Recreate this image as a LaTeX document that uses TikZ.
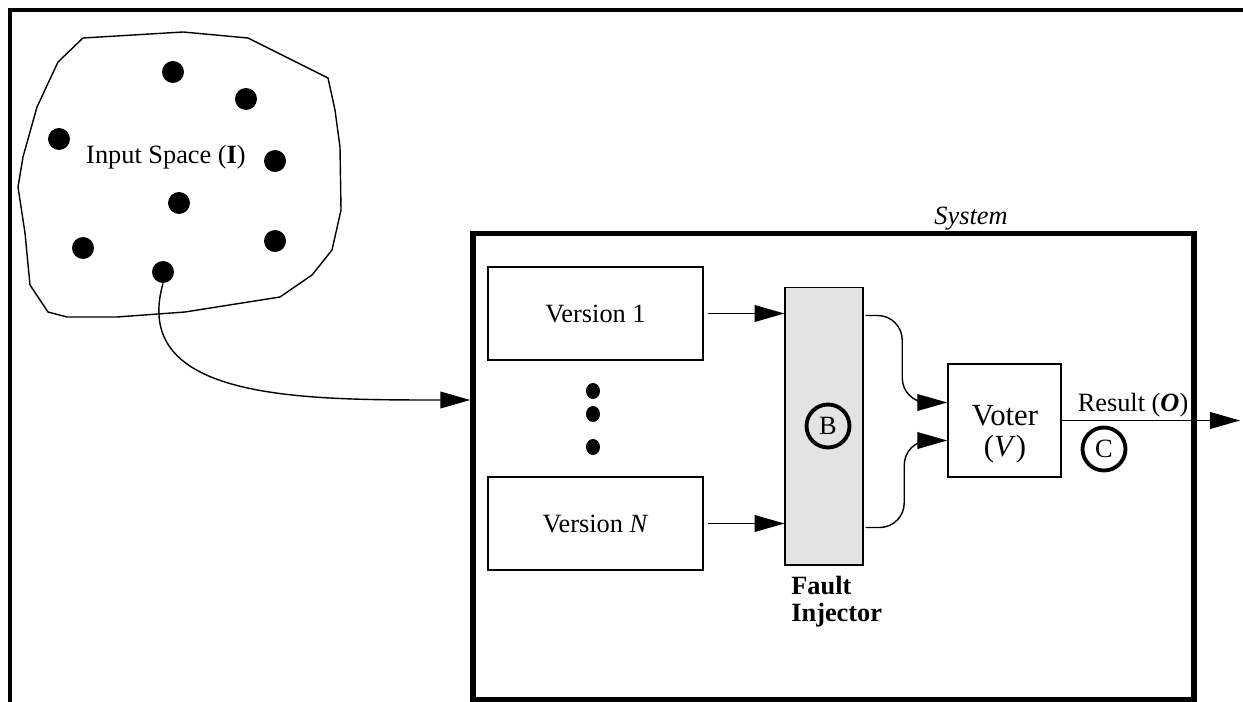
\documentclass[tikz,border=0pt]{standalone}
\usepackage{fontspec}
\setmainfont{Liberation Serif}
\usetikzlibrary{arrows.meta,calc}

\tikzset{
	caja/.style={draw, line width=1.1pt, minimum width=4.3cm, minimum height=1.86cm, inner sep=0pt},
	punto/.style={circle, fill, inner sep=0pt, minimum size=0.44cm},
	marca/.style={circle, draw, line width=2.2pt, inner sep=0pt, minimum size=0.86cm},
	flecha/.style={line width=0.8pt, -{Triangle[length=17pt,width=9.5pt]}},
}

\begin{document}
\begin{tikzpicture}[x=0.02cm, y=-0.02cm, font=\fontsize{15}{16.5}\selectfont]
	\useasboundingbox (0,0) rectangle (1243,702);
	% Marco exterior (solo izquierda y arriba)
	\draw[line width=1.8pt] (10,702) -- (10,10) -- (1243,10);
	% Espacio de entradas
	\draw[line width=0.8pt] (83,38) -- (183,32) -- (248,38) -- (328,78) -- (335,110) -- (340,147) -- (341,210) -- (332,250) -- (312,275) -- (280,297) -- (185,312) -- (117,317) -- (67,317) -- (48,312) -- (30,285) -- (25,233) -- (18,187) -- (23,157) -- (37,107) -- (58,62) -- cycle;
	\node (ent) at (166,157) {Input Space (\textbf{I})};
	\foreach \nombre/\px/\py in {p1/173/72, p2/246/99, p3/59/139, p4/275/161, p5/179/203, p6/83/248, p7/275/241, p8/163/272}
		\node[punto] (\nombre) at (\px,\py) {};
	% Sistema
	\node[draw, line width=3.2pt, minimum width=14.42cm, minimum height=9.32cm] (sis) at (833.5,466.5) {};
	\node[font=\itshape\fontsize{15}{16.5}\selectfont] (tsis) at (971,219) {System};
	% Versiones
	\node[caja] (v1) at (595.5,313.5) {Version 1};
	\node[caja] (vN) at (595.5,523.5) {Version \textit{N}};
	\foreach \yy in {391,414,447}
		\fill (593,\yy) ellipse [x radius=0.14cm, y radius=0.16cm];
	% Inyector de fallos
	\node[draw, line width=0.6pt, fill=black!11, minimum width=1.56cm, minimum height=5.56cm] (iny) at (824,426) {};
	\node[marca] (b) at (828,426) {B};
	\node[anchor=north west, align=left, inner sep=0pt, font=\bfseries\fontsize{15}{15.5}\selectfont] (tiny) at (791,576) {Fault\\Injector};
	% Votante
	\node[draw, line width=0.9pt, minimum size=2.26cm] (vot) at (1004.5,420.5) {};
	\node[align=center, font=\fontsize{17.5}{17.5}\selectfont] (tvot) at (1005,434) {Voter\\(\textit{V})};
	\node (res) at (1133,405) {Result (\textbf{\textit{O}})};
	\node[marca] (c) at (1104,449) {C};
	\coordinate (sal) at (1240,420.5);
	% Conexiones
	\draw[flecha] (p8.south) .. controls (130,400) and (300,400) .. ($(sis.west)+(0,-66.5)$);
	\draw[flecha] ($(v1.east)+(4,0)$) -- (v1.east -| iny.west);
	\draw[flecha] ($(vN.east)+(4,0)$) -- (vN.east -| iny.west);
	\draw[flecha, rounded corners=14pt] ($(iny.east |- v1.east)+(2,2)$) -| ($(vot.west)+(-45,-18)$) -- ($(vot.west)+(0,-18)$);
	\draw[flecha, rounded corners=14pt] ($(iny.east |- vN.east)+(2,4)$) -| ($(vot.west)+(-43,20)$) -- ($(vot.west)+(0,20)$);
	\draw[flecha] (vot.east) -- (sal);
\end{tikzpicture}
\end{document}
